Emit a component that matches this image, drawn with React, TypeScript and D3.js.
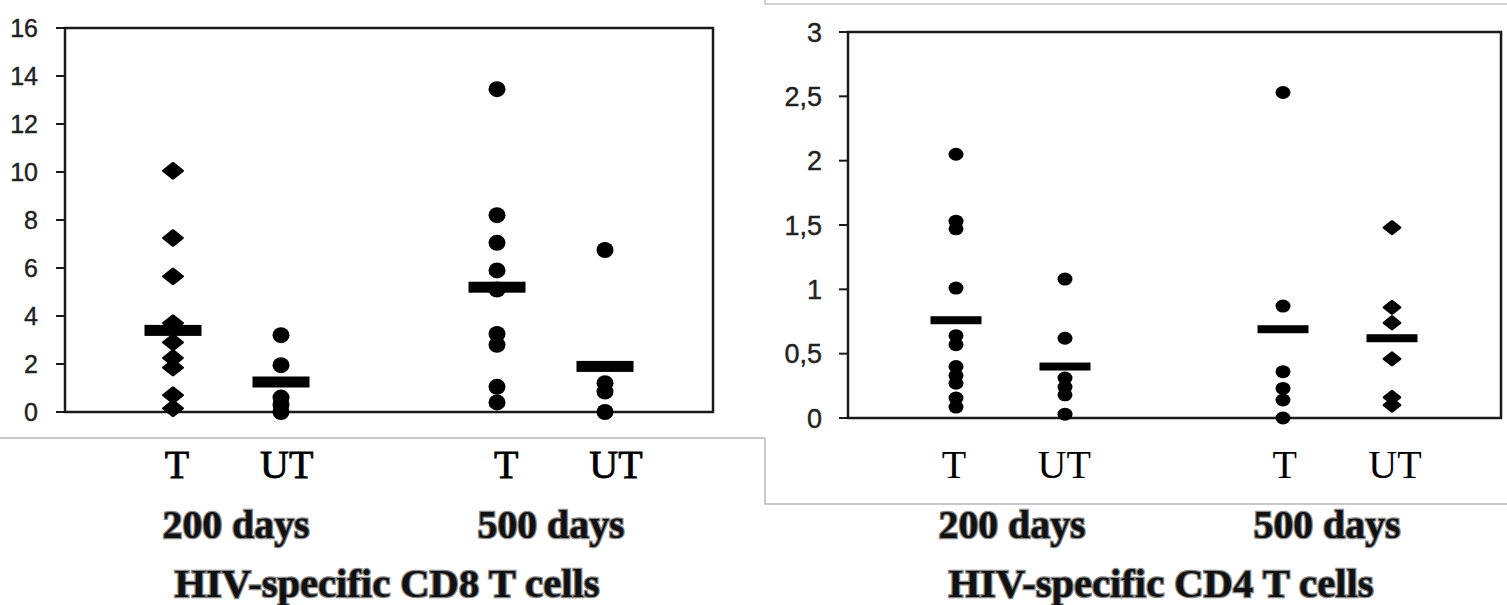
import React from "react";
import * as d3 from "d3";

// categories: slot "" is the empty gap between 200 and 500 days
const groups = ["T200", "UT200", "", "T500", "UT500"];
const groupLabels = ["T", "UT", "", "T", "UT"];
const dayLabels = ["200 days", "500 days"];

// CD8 panel (left)
const cd8T200 = [10.05, 7.25, 5.65, 3.7, 2.9, 2.25, 1.85, 0.7, 0.15];
const cd8UT200 = [3.2, 1.95, 0.6, 0.3, 0.0];
const cd8T500 = [13.45, 8.2, 7.05, 5.9, 5.1, 3.25, 2.8, 1.05, 0.4];
const cd8UT500 = [6.75, 1.2, 0.85, 0.0];
const cd8Means = [3.4, 1.25, 5.2, 1.9];
const cd8Ticks = [0, 2, 4, 6, 8, 10, 12, 14, 16];

// CD4 panel (right)
const cd4T200 = [2.05, 1.53, 1.47, 1.01, 0.64, 0.57, 0.4, 0.33, 0.27, 0.155, 0.085];
const cd4UT200 = [1.08, 0.62, 0.31, 0.24, 0.18, 0.03];
const cd4T500 = [2.53, 0.87, 0.36, 0.23, 0.14, 0.0];
const cd4UT500 = [1.48, 0.86, 0.74, 0.46, 0.16, 0.1];
const cd4Means = [0.76, 0.4, 0.69, 0.62];
const cd4Ticks = [0, 0.5, 1, 1.5, 2, 2.5, 3];

const serif = "'Liberation Serif', 'DejaVu Serif', serif";
const sans = "'Liberation Sans', Arial, sans-serif";

function Panel(props) {
  const {
    series, means, diamondGroup, ticks, yMax, fmt, box, xRange, labelRange,
    dayX, titleX, title, tickSize, dot, meanW, meanH, labelStroke
  } = props;

  const y = d3.scaleLinear().domain([0, yMax]).range([box.bottom, box.top]);
  const x = d3.scalePoint().domain(groups).range(xRange);
  const xl = d3.scalePoint().domain(groups).range(labelRange);
  const dataGroups = groups.filter((g) => g !== "");
  const diamond = d3.symbol().type(d3.symbolDiamond2).size(dot.diamond)();

  return (
    <g>
      {/* frame */}
      <rect x={box.left} y={box.top} width={box.right - box.left} height={box.bottom - box.top}
        fill="none" stroke="#1a1a1a" strokeWidth={2.5} />
      {ticks.map((t) => (
        <g key={t}>
          <line x1={box.left - 9} x2={box.left} y1={y(t)} y2={y(t)} stroke="#1a1a1a" strokeWidth={2} />
          <text x={box.left - tickSize.gap} y={y(t)} dy="0.36em" textAnchor="end"
            fontFamily={sans} fontSize={tickSize.size} fill="#222"
            stroke="#222" strokeWidth={0.4}>{fmt(t)}</text>
        </g>
      ))}

      {/* points */}
      {dataGroups.map((g, gi) => (
        <g key={g}>
          {series[gi].map((v, i) =>
            g === diamondGroup ? (
              <path key={i} d={diamond}
                transform={`translate(${x(g)},${y(v)}) scale(1,0.8)`}
                fill="#000" stroke="#000" strokeWidth={3} strokeLinejoin="round" />
            ) : (
              <ellipse key={i} cx={x(g)} cy={y(v)} rx={dot.rx} ry={dot.ry} fill="#000" />
            )
          )}
          <rect x={x(g) - meanW / 2} y={y(means[gi]) - meanH / 2} width={meanW} height={meanH} fill="#000" />
        </g>
      ))}

      {/* category labels */}
      {groups.map((g, i) => g === "" ? null : (
        <text key={g} x={xl(g)} y={478} textAnchor="middle" fontFamily={serif} fontSize={40}
          fill="#000" stroke="#000" strokeWidth={labelStroke}>{groupLabels[i]}</text>
      ))}
      {dayLabels.map((d, i) => (
        <text key={d} x={dayX[i]} y={538} textAnchor="middle" fontFamily={serif} fontSize={40}
          fontWeight="bold" fill="#111" stroke="#8a8a8a" strokeWidth={2.5} paintOrder="stroke"
          textLength={147} lengthAdjust="spacingAndGlyphs">{d}</text>
      ))}
      <text x={titleX} y={597} textAnchor="middle" fontFamily={serif} fontSize={40}
        fontWeight="bold" fill="#111" stroke="#8a8a8a" strokeWidth={2.5} paintOrder="stroke"
        textLength={425} lengthAdjust="spacingAndGlyphs">{title}</text>
    </g>
  );
}

export default function App() {
  const comma = (t) => String(t).replace(".", ",");
  return (
    <svg width={1507} height={605} style={{ position: "absolute", left: 0, top: 0, background: "#fff" }}>
      <rect width={1507} height={605} fill="#fff" />
      {/* faint frames from the original composite figure */}
      <line x1={0} x2={765} y1={438} y2={438} stroke="#b8b8b8" strokeWidth={1.5} />
      <polyline points="765,0 765,4 1507,4" fill="none" stroke="#c4c4c4" strokeWidth={1.5} />
      <polyline points="765,438 765,504 1507,504" fill="none" stroke="#b8b8b8" strokeWidth={1.5} />

      <Panel
        series={[cd8T200, cd8UT200, cd8T500, cd8UT500]}
        means={cd8Means}
        diamondGroup="T200"
        ticks={cd8Ticks}
        yMax={16}
        fmt={(t) => String(t)}
        box={{ left: 65, right: 713, top: 28, bottom: 412 }}
        xRange={[173, 605]}
        labelRange={[177, 616]}
        dayX={[236, 551]}
        titleX={387}
        title="HIV-specific CD8 T cells"
        tickSize={{ size: 25, gap: 27 }}
        dot={{ rx: 8.5, ry: 8, diamond: 230 }}
        meanW={57}
        meanH={11}
        labelStroke={0.8}
      />
      <Panel
        series={[cd4T200, cd4UT200, cd4T500, cd4UT500]}
        means={cd4Means}
        diamondGroup="UT500"
        ticks={cd4Ticks}
        yMax={3}
        fmt={comma}
        box={{ left: 848, right: 1501, top: 32, bottom: 418 }}
        xRange={[956, 1392]}
        labelRange={[954, 1395]}
        dayX={[1012, 1327]}
        titleX={1161}
        title="HIV-specific CD4 T cells"
        tickSize={{ size: 27, gap: 26 }}
        dot={{ rx: 7.5, ry: 6.5, diamond: 160 }}
        meanW={51}
        meanH={8}
        labelStroke={0}
      />
    </svg>
  );
}
